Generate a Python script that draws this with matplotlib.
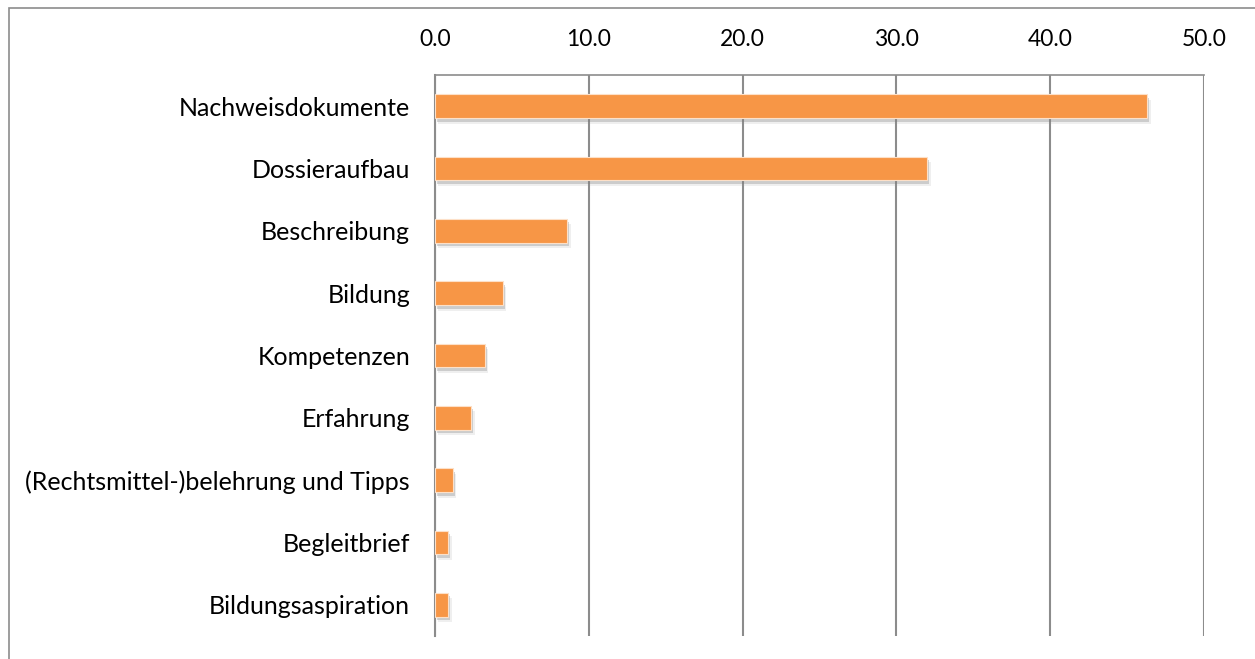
import matplotlib.pyplot as plt
import matplotlib.patheffects as pe
from matplotlib.patches import Rectangle

categories = ["Nachweisdokumente", "Dossieraufbau", "Beschreibung", "Bildung",
              "Kompetenzen", "Erfahrung", "(Rechtsmittel-)belehrung und Tipps",
              "Begleitbrief", "Bildungsaspiration"]
values = [46.3, 32.0, 8.6, 4.4, 3.25, 2.35, 1.15, 0.87, 0.87]
xticks = [0, 10, 20, 30, 40, 50]

plt.rcParams['font.family'] = ['Lato', 'DejaVu Sans']

fig = plt.figure(figsize=(12.55, 6.59), dpi=100)
ax = fig.add_axes([435 / 1255, 1 - 636 / 659, (1204 - 435) / 1255, (636 - 75) / 659])

# outer chart frame (only top/left edges visible in the picture)
fig.patches.append(Rectangle((9 / 1255, -0.05), 1.2, 1 - 8 / 659 + 0.05,
                             transform=fig.transFigure, fill=False,
                             edgecolor='#8c8c8c', linewidth=1.2))

ypos = list(range(len(categories)))
bars = ax.barh(ypos, values, height=0.385, color='#F79646',
               edgecolor='#fde0c8', linewidth=0.8, zorder=3)
for b in bars:
    b.set_path_effects([pe.SimplePatchShadow(offset=(1.5, -2.5), shadow_rgbFace='#777777', alpha=0.3),
                        pe.SimplePatchShadow(offset=(2.5, -4), shadow_rgbFace='#999999', alpha=0.15),
                        pe.Normal()])

ax.set_xlim(0, 50)
ax.set_ylim(len(categories) - 0.5, -0.5)
ax.set_yticks(ypos)
ax.set_yticklabels(categories, fontsize=18)
ax.set_xticks(xticks)
ax.set_xticklabels([f"{v:.1f}" for v in xticks], fontsize=16.5)
ax.xaxis.tick_top()
ax.tick_params(axis='x', length=0, pad=18)
ax.tick_params(axis='y', length=0, pad=18)

ax.grid(axis='x', color='#8c8c8c', linewidth=1.5, zorder=0)
for s in ['bottom', 'right']:
    ax.spines[s].set_visible(False)
ax.spines['top'].set_color('#8c8c8c')
ax.spines['top'].set_linewidth(1.2)
ax.spines['left'].set_color('#8c8c8c')
ax.spines['left'].set_linewidth(1.5)

fig.savefig('out.png', dpi=100)
